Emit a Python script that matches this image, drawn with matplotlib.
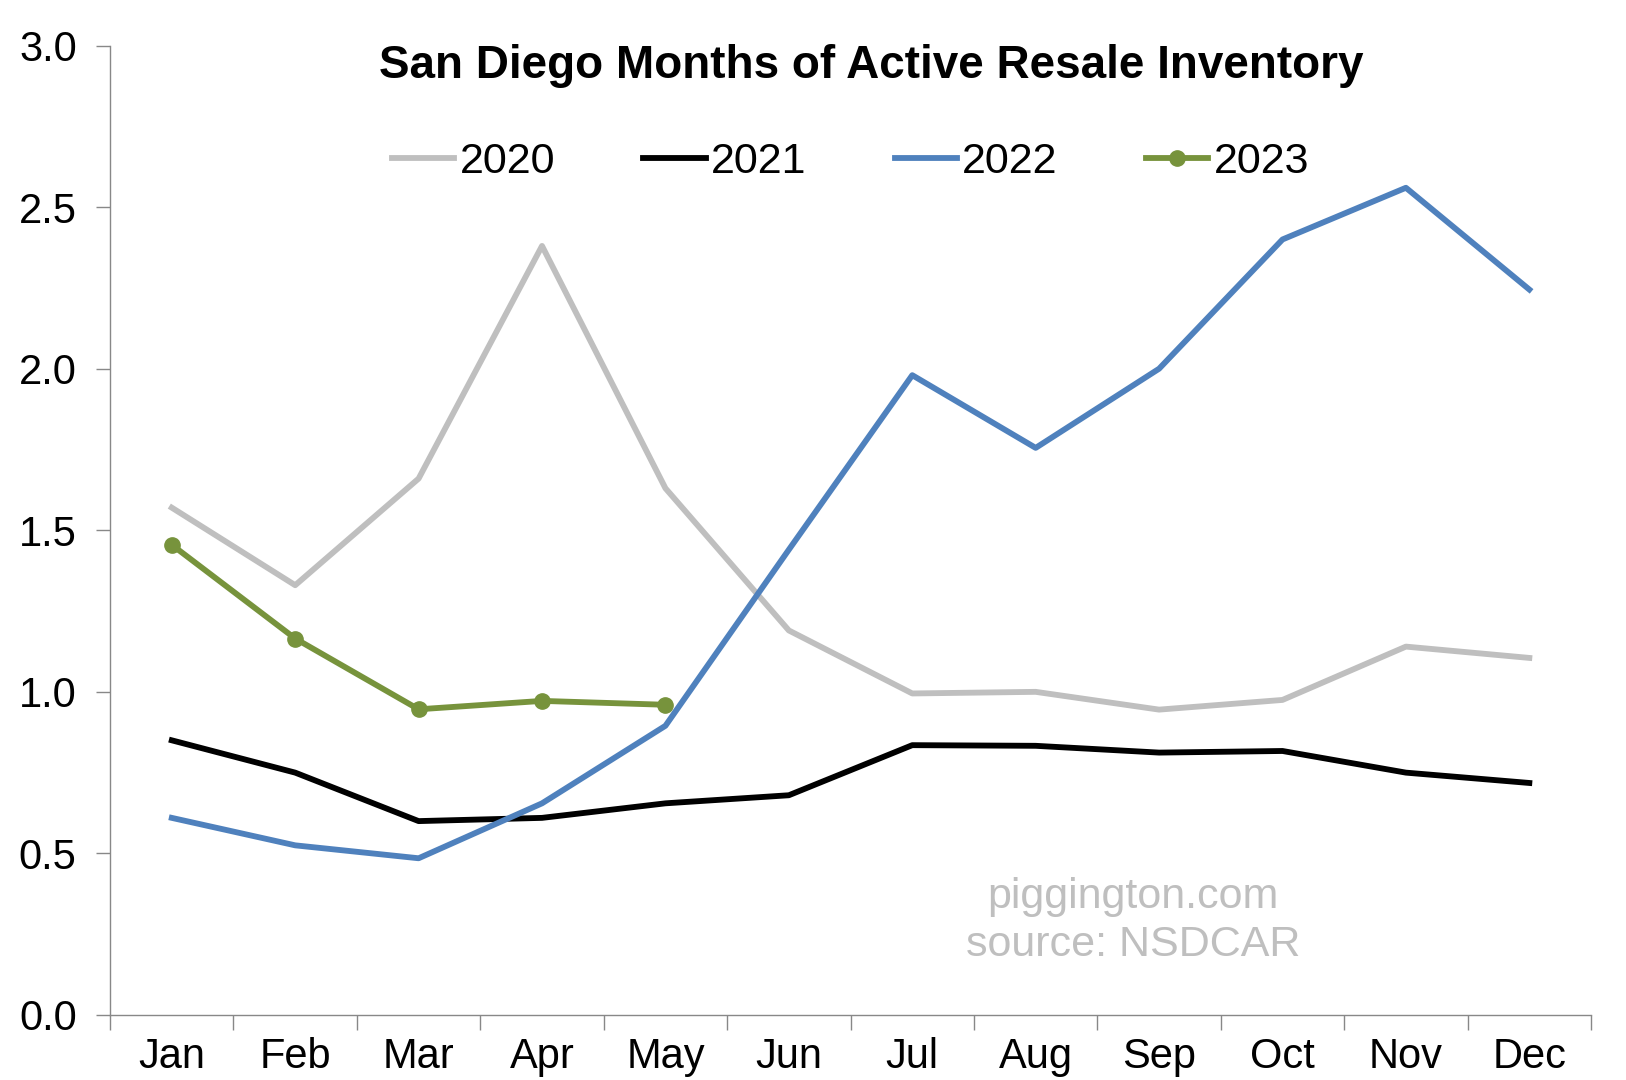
import matplotlib
matplotlib.use("Agg")
import matplotlib.pyplot as plt
from matplotlib.ticker import FixedLocator, NullFormatter

months = ["Jan", "Feb", "Mar", "Apr", "May", "Jun", "Jul", "Aug", "Sep", "Oct", "Nov", "Dec"]
y2020 = [1.57, 1.33, 1.66, 2.38, 1.63, 1.19, 0.995, 1.00, 0.945, 0.975, 1.14, 1.105]
y2021 = [0.85, 0.75, 0.60, 0.61, 0.655, 0.68, 0.835, 0.833, 0.812, 0.817, 0.75, 0.718]
y2022 = [0.61, 0.525, 0.485, 0.655, 0.895, 1.44, 1.98, 1.755, 2.0, 2.40, 2.56, 2.245]
y2023 = [1.455, 1.165, 0.946, 0.972, 0.96]
yticks = [0.0, 0.5, 1.0, 1.5, 2.0, 2.5, 3.0]
ytick_labels = ["0.0", "0.5", "1.0", "1.5", "2.0", "2.5", "3.0"]

plt.rcParams['font.family'] = ["Liberation Sans", "DejaVu Sans"]

fig = plt.figure(figsize=(16.26, 10.8), dpi=100)
ax = fig.add_axes([0.0677, 0.0602, 0.9108, 0.8976])

x = list(range(12))
lw = 4.2
ax.plot(x, y2020, color="#BFBFBF", lw=lw, label="2020")
ax.plot(x, y2021, color="#000000", lw=lw, label="2021")
ax.plot(x, y2022, color="#4F81BD", lw=lw, label="2022")
ax.plot(x[:len(y2023)], y2023, color="#77933C", lw=lw, marker="o", ms=11, label="2023")

ax.set_xlim(-0.5, 11.5)
ax.set_ylim(0, 3.0)
ax.set_yticks(yticks)
ax.set_yticklabels(ytick_labels)

ax.xaxis.set_major_locator(FixedLocator([i - 0.5 for i in range(13)]))
ax.xaxis.set_major_formatter(NullFormatter())
ax.xaxis.set_minor_locator(FixedLocator(x))
ax.set_xticklabels(months, minor=True)
ax.tick_params(axis="x", which="major", length=11, width=1, color="#888888", direction="out")
ax.tick_params(axis="x", which="minor", length=0, labelsize=30, pad=16)
ax.tick_params(axis="y", length=10, width=1, color="#888888", labelsize=30, pad=14)

for s in ["top", "right"]:
    ax.spines[s].set_visible(False)
for s in ["left", "bottom"]:
    ax.spines[s].set_color("#888888")
    ax.spines[s].set_linewidth(1)

fig.text(0.536, 0.939, "San Diego Months of Active Resale Inventory", ha="center", va="center",
         fontsize=33, fontweight="bold", color="black")

leg = ax.legend(loc="center", bbox_to_anchor=(0.5, 0.8795), ncol=4, frameon=False,
                fontsize=31, handlelength=1.45, handletextpad=0.12, columnspacing=2.05)

ax.text(0.691, 0.122, "piggington.com", transform=ax.transAxes, ha="center", va="center",
        fontsize=31, color="#BFBFBF")
ax.text(0.691, 0.072, "source: NSDCAR", transform=ax.transAxes, ha="center", va="center",
        fontsize=31, color="#BFBFBF")

fig.savefig("out.png", dpi=100, facecolor="white")
